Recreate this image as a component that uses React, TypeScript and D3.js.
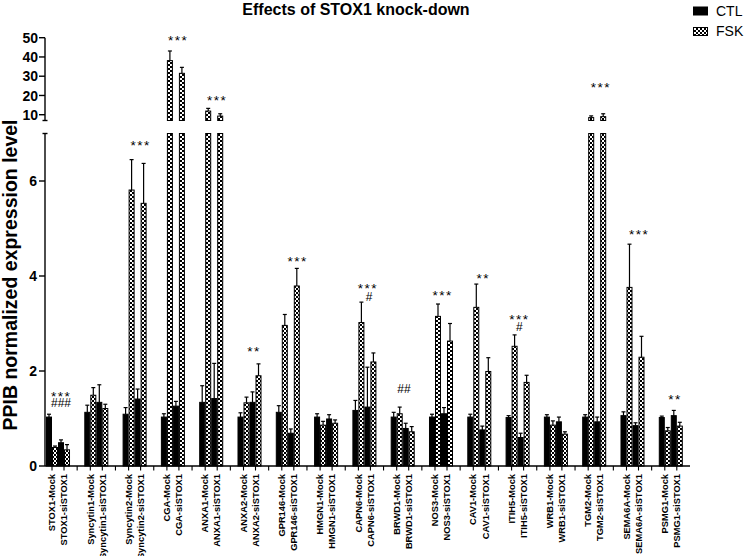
import React from 'react';
import * as d3 from 'd3';

const genes = ['STOX1', 'Syncytin1', 'Syncytin2', 'CGA', 'ANXA1', 'ANXA2', 'GPR146', 'HMGN1', 'CAPN6', 'BRWD1', 'NOS3', 'CAV1', 'ITIH5', 'WRB1', 'TGM2', 'SEMA6A', 'PSMG1'];
const conditions = ['Mock', 'siSTOX1'];
const seriesNames = ['CTL', 'FSK'];

const mockCTL = [1.03, 1.13, 1.09, 1.03, 1.34, 1.03, 1.13, 1.03, 1.17, 1.03, 1.03, 1.03, 1.02, 1.03, 1.03, 1.06, 1.02];
const mockCTLErr = [0.06, 0.15, 0.14, 0.07, 0.35, 0.09, 0.14, 0.07, 0.21, 0.10, 0.06, 0.06, 0.04, 0.05, 0.05, 0.08, 0.03];
const mockFSK = [0.39, 1.49, 5.81, 38.1, 11.9, 1.33, 2.96, 0.86, 3.02, 1.10, 3.15, 3.34, 2.52, 0.86, 8.5, 3.76, 0.74];
const mockFSKErr = [0.03, 0.16, 0.64, 5.0, 1.4, 0.12, 0.23, 0.08, 0.43, 0.14, 0.26, 0.49, 0.24, 0.09, 0.9, 0.91, 0.07];
const siCTL = [0.49, 1.34, 1.41, 1.26, 1.42, 1.34, 0.69, 0.99, 1.24, 0.79, 1.10, 0.76, 0.60, 0.93, 0.93, 0.85, 1.06];
const siCTLErr = [0.06, 0.37, 0.21, 0.10, 0.74, 0.22, 0.09, 0.09, 0.84, 0.11, 0.13, 0.08, 0.09, 0.10, 0.10, 0.06, 0.11];
const siFSK = [0.34, 1.21, 5.53, 31.5, 9.3, 1.9, 3.79, 0.9, 2.19, 0.72, 2.63, 1.99, 1.76, 0.67, 9.0, 2.29, 0.84];
const siFSKErr = [0.11, 0.09, 0.84, 3.1, 1.2, 0.25, 0.37, 0.07, 0.19, 0.11, 0.37, 0.29, 0.15, 0.05, 1.5, 0.44, 0.08];

const lowerTicks = [0, 2, 4, 6];
const upperTicks = [10, 20, 30, 40, 50];

// annotations: gene, fractional position across the group, value where the text baseline sits, text
const annGenes = ['STOX1', 'STOX1', 'Syncytin2', 'CGA', 'ANXA1', 'ANXA2', 'GPR146', 'CAPN6', 'CAPN6', 'BRWD1', 'NOS3', 'CAV1', 'ITIH5', 'ITIH5', 'TGM2', 'SEMA6A', 'PSMG1'];
const annFrac = [0.625, 0.625, 0.746, 0.713, 0.742, 0.69, 0.91, 0.64, 0.70, 0.55, 0.57, 0.67, 0.57, 0.57, 0.78, 0.78, 0.675];
const annValue = [1.37, 1.235, 6.65, 46.4, 15.25, 2.32, 4.21, 3.65, 3.475, 1.53, 3.49, 3.86, 2.98, 2.835, 21.6, 4.77, 1.30];
const annText = ['***', '###', '***', '***', '***', '**', '***', '***', '#', '##', '***', '**', '***', '#', '***', '***', '**'];

const FONT = 'Liberation Sans, Arial, Helvetica, sans-serif';

export default function App() {
  const W = 747, H = 556;
  const axisX = 45;
  const yLow = d3.scaleLinear().domain([0, 7]).range([466, 133.5]);
  const yHigh = d3.scaleLinear().domain([7, 50]).range([120.5, 37.7]);
  const x = d3.scaleBand<string>().domain(genes).range([46, 682.8]).paddingInner(0.373).paddingOuter(0);
  const sub = d3.scaleBand<number>().domain([0, 1, 2, 3]).range([0, x.bandwidth()]).padding(0);
  const bw = sub.bandwidth();
  const yAny = (v: number) => (v > 7 ? yHigh(v) : yLow(v));

  const bars: any[] = [];
  genes.forEach((g, i) => {
    const vals = [mockCTL[i], mockFSK[i], siCTL[i], siFSK[i]];
    const errs = [mockCTLErr[i], mockFSKErr[i], siCTLErr[i], siFSKErr[i]];
    vals.forEach((v, j) => {
      const x0 = (x(g) as number) + (sub(j) as number);
      bars.push({ key: `${g}-${j}`, x0, v, e: errs[j], fsk: j % 2 === 1 });
    });
  });

  const xTicks: number[] = [];
  genes.forEach((g, i) => {
    const gx = x(g) as number;
    if (i > 0) xTicks.push(gx - (x.step() - x.bandwidth()) / 2);
    xTicks.push(gx + sub.step());
    xTicks.push(gx + 3 * sub.step());
  });

  const stroke = '#000';

  return (
    <svg width={W} height={H} style={{ position: 'absolute', left: 0, top: 0, background: '#fff' }} fontFamily={FONT}>
      <defs>
        <pattern id="checker" width={4} height={4} patternUnits="userSpaceOnUse">
          <rect width={4} height={4} fill="#fff" />
          <rect width={2} height={2} fill="#000" />
          <rect x={2} y={2} width={2} height={2} fill="#000" />
        </pattern>
      </defs>
      <rect width={W} height={H} fill="#fff" />

      {/* title */}
      <text x={356} y={15} textAnchor="middle" fontSize={16} fontWeight="bold">Effects of STOX1 knock-down</text>

      {/* legend */}
      <rect x={693} y={6.5} width={15} height={9} fill="#000" />
      <text x={716} y={15.5} fontSize={14}>{seriesNames[0]}</text>
      <rect x={693.5} y={27.5} width={14} height={8} fill="url(#checker)" stroke="#000" strokeWidth={1} />
      <text x={716} y={36} fontSize={14}>{seriesNames[1]}</text>

      {/* y title */}
      <text transform={`translate(16.5,${275}) rotate(-90)`} textAnchor="middle" fontSize={19.5} fontWeight="bold">PPIB normalized expression level</text>

      {/* bars */}
      {bars.map((b) => {
        const fill = b.fsk ? 'url(#checker)' : '#000';
        const cx = b.x0 + bw / 2;
        const els: any[] = [];
        if (b.v <= 7) {
          els.push(<rect key="r" x={b.x0 + 0.5} y={yLow(b.v)} width={bw - 1} height={yLow(0) - yLow(b.v)} fill={fill} stroke={stroke} strokeWidth={1} />);
        } else {
          els.push(<rect key="r1" x={b.x0 + 0.5} y={yLow(7)} width={bw - 1} height={yLow(0) - yLow(7)} fill={fill} stroke={stroke} strokeWidth={1} />);
          els.push(<rect key="r2" x={b.x0 + 0.5} y={yHigh(b.v)} width={bw - 1} height={yHigh(7) - yHigh(b.v)} fill={fill} stroke={stroke} strokeWidth={1} />);
        }
        const top = b.v + b.e;
        const y1 = yAny(b.v);
        const y2 = yAny(top);
        els.push(<line key="e" x1={cx} x2={cx} y1={y1} y2={y2} stroke={stroke} strokeWidth={1.2} />);
        els.push(<line key="c" x1={cx - 2} x2={cx + 2} y1={y2} y2={y2} stroke={stroke} strokeWidth={1.2} />);
        return <g key={b.key}>{els}</g>;
      })}

      {/* annotations */}
      {annText.map((t, k) => {
        const gx = (x(annGenes[k]) as number) + x.bandwidth() * annFrac[k];
        const isStar = t.includes('*');
        return (
          <text key={`a${k}`} x={gx} y={yAny(annValue[k])} textAnchor="middle" fontSize={isStar ? 13.5 : 12} letterSpacing={isStar ? 1.5 : 0}>{t}</text>
        );
      })}

      {/* y axis lower */}
      <line x1={axisX} x2={axisX} y1={yLow(0)} y2={yLow(7)} stroke={stroke} strokeWidth={1.4} />
      <line x1={axisX - 2.5} x2={axisX + 2.5} y1={yLow(7)} y2={yLow(7)} stroke={stroke} strokeWidth={1.4} />
      {lowerTicks.map((t) => (
        <g key={`lt${t}`}>
          <line x1={axisX - 6} x2={axisX} y1={yLow(t)} y2={yLow(t)} stroke={stroke} strokeWidth={1.4} />
          <text x={axisX - 8} y={yLow(t)} dy="0.36em" textAnchor="end" fontSize={14} fontWeight="bold">{t}</text>
        </g>
      ))}
      {/* y axis upper */}
      <line x1={axisX} x2={axisX} y1={yHigh(7)} y2={yHigh(50)} stroke={stroke} strokeWidth={1.4} />
      <line x1={axisX - 2.5} x2={axisX + 2.5} y1={yHigh(7)} y2={yHigh(7)} stroke={stroke} strokeWidth={1.4} />
      {upperTicks.map((t) => (
        <g key={`ut${t}`}>
          <line x1={axisX - 6} x2={axisX} y1={yHigh(t)} y2={yHigh(t)} stroke={stroke} strokeWidth={1.4} />
          <text x={axisX - 7} y={yHigh(t)} dy="0.36em" textAnchor="end" fontSize={14} fontWeight="bold">{t}</text>
        </g>
      ))}

      {/* x axis */}
      <line x1={axisX} x2={690} y1={yLow(0)} y2={yLow(0)} stroke={stroke} strokeWidth={1.4} />
      {xTicks.map((t, k) => (
        <line key={`xt${k}`} x1={t} x2={t} y1={yLow(0)} y2={yLow(0) + 4.5} stroke={stroke} strokeWidth={1.1} />
      ))}
      {genes.map((g) =>
        conditions.map((c, ci) => {
          const cx = (x(g) as number) + sub.step() * (1 + 2 * ci);
          return (
            <text key={`${g}${c}`} transform={`translate(${cx + 3.2},474) rotate(-90)`} textAnchor="end" fontSize={9.3} fontWeight="bold">{`${g}-${c}`}</text>
          );
        })
      )}
    </svg>
  );
}
